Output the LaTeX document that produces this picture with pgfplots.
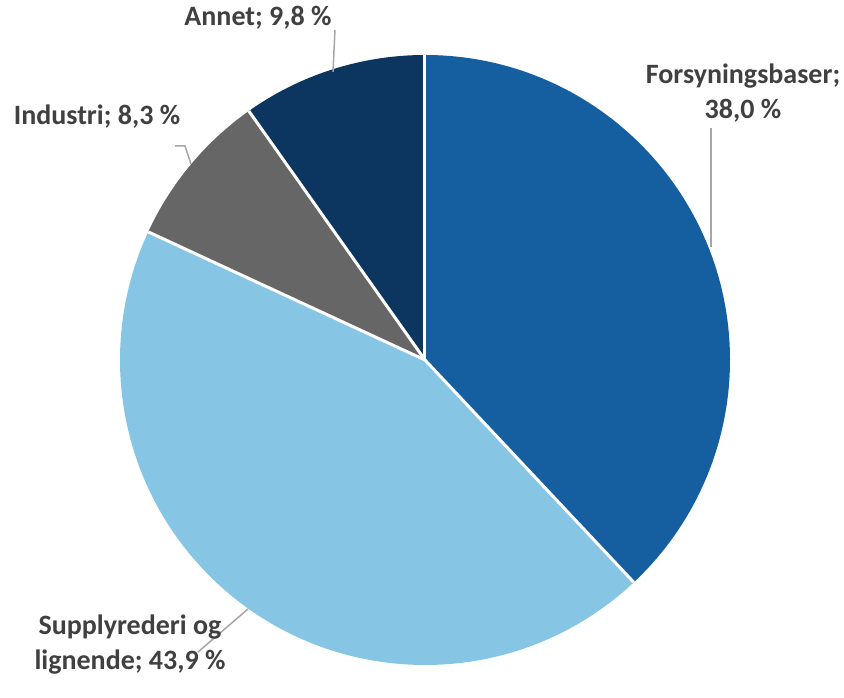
\documentclass[border=0pt]{standalone}
\usepackage{fontspec}
\setmainfont{Carlito}
\usepackage{pgfplots}
\usepackage{pgfplotstable}
\pgfplotsset{compat=1.18}

\definecolor{cForsyn}{HTML}{155FA0}
\definecolor{cSupply}{HTML}{87C5E4}
\definecolor{cIndustri}{HTML}{666666}
\definecolor{cAnnet}{HTML}{0C3660}
\definecolor{txt}{HTML}{404040}
\definecolor{leader}{HTML}{A6A6A6}

% andel i prosent, med klokka fra kl. 12
\pgfplotstableread[col sep=comma]{
label,value
Forsyningsbaser,38.0
Supplyrederi og lignende,43.9
Industri,8.3
Annet,9.8
}\piedata

\pgfplotstablegetelem{0}{value}\of\piedata \let\vA\pgfplotsretval
\pgfplotstablegetelem{1}{value}\of\piedata \let\vB\pgfplotsretval
\pgfplotstablegetelem{2}{value}\of\piedata \let\vC\pgfplotsretval
\pgfplotstablegetelem{3}{value}\of\piedata \let\vD\pgfplotsretval
\pgfmathsetmacro\aA{90}
\pgfmathsetmacro\aB{\aA-3.6*\vA}
\pgfmathsetmacro\aC{\aB-3.6*\vB}
\pgfmathsetmacro\aD{\aC-3.6*\vC}
\pgfmathsetmacro\aE{\aD-3.6*\vD}
\def\pieR{152.5pt}

\tikzset{
  lbl/.style={text=txt, font=\fontsize{14}{17.5}\selectfont\bfseries, align=center, inner sep=0pt},
  sep/.style={white, line width=1.5pt},
}

\begin{document}
\begin{tikzpicture}
\begin{axis}[
    scale only axis,
    width=422pt, height=337.5pt,
    xmin=-1.3934, xmax=1.3738,
    ymin=-1.0328, ymax=1.1803,
    hide axis, clip=false,
]
\path (rel axis cs:0,0) rectangle (rel axis cs:1,1);

\fill[cForsyn]   (axis cs:0,0) -- ([shift={(\aA:\pieR)}]axis cs:0,0) arc[start angle=\aA, end angle=\aB, radius=\pieR] -- cycle;
\fill[cSupply]   (axis cs:0,0) -- ([shift={(\aB:\pieR)}]axis cs:0,0) arc[start angle=\aB, end angle=\aC, radius=\pieR] -- cycle;
\fill[cIndustri] (axis cs:0,0) -- ([shift={(\aC:\pieR)}]axis cs:0,0) arc[start angle=\aC, end angle=\aD, radius=\pieR] -- cycle;
\fill[cAnnet]    (axis cs:0,0) -- ([shift={(\aD:\pieR)}]axis cs:0,0) arc[start angle=\aD, end angle=\aE, radius=\pieR] -- cycle;
\draw[sep] (axis cs:0,0) -- ([shift={(\aA:\pieR)}]axis cs:0,0);
\draw[sep] (axis cs:0,0) -- ([shift={(\aB:\pieR)}]axis cs:0,0);
\draw[sep] (axis cs:0,0) -- ([shift={(\aC:\pieR)}]axis cs:0,0);
\draw[sep] (axis cs:0,0) -- ([shift={(\aD:\pieR)}]axis cs:0,0);

% leader lines
\addplot[leader, line width=0.75pt, no markers] coordinates {(-0.2951,1.082) (-0.3016,0.9443)};
\addplot[leader, line width=0.75pt, no markers] coordinates {(0.9377,0.7607) (0.9377,0.3705)};
\addplot[leader, line width=0.75pt, no markers] coordinates {(-0.8197,0.7016) (-0.7869,0.7016) (-0.7672,0.6426)};
\addplot[leader, line width=0.75pt, no markers] coordinates {(-0.5803,-0.8164) (-0.7443,-0.9574)};

\node[lbl] at (axis cs:-0.5475,1.1213) {Annet; 9,8 \%};
\node[lbl] at (axis cs:1.0426,0.8754) {Forsyningsbaser;\\38,0 \%};
\node[lbl] at (axis cs:-1.0754,0.7967) {Industri; 8,3 \%};
\node[lbl] at (axis cs:-0.9672,-0.9344) {Supplyrederi og\\lignende; 43,9 \%};
\end{axis}
\end{tikzpicture}
\end{document}
